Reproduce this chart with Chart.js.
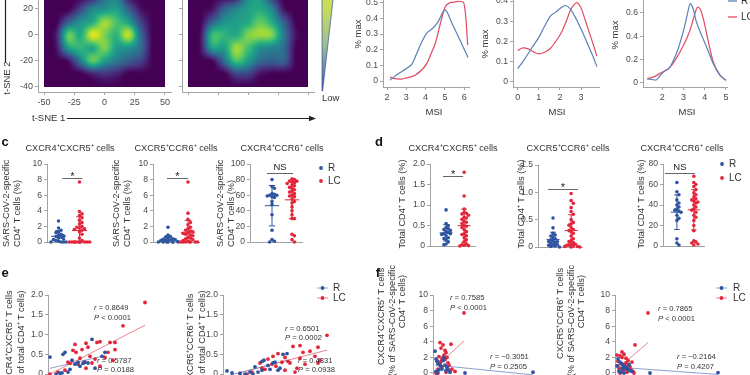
<!DOCTYPE html>
<html><head><meta charset="utf-8">
<script src="https://cdn.jsdelivr.net/npm/chart.js@4.4.1/dist/chart.umd.min.js"></script>
<style>
html,body{margin:0;padding:0;width:750px;height:375px;overflow:hidden;background:#fff;}
#root{position:relative;width:750px;height:375px;overflow:hidden;font-family:"Liberation Sans",Arial,sans-serif;color:#333;}
.t{position:absolute;white-space:nowrap;line-height:1;}
</style></head><body><div id="root"></div>
<script>
// ================= DATA =================
// t-SNE density grids (rows: tsneY, cols: tsneX), 0..1
const tsneX = [-50,-40,-30,-20,-10,0,10,20,30,40,50];
const tsneY = [40,30,20,10,0,-10,-20,-30,-40];
const heatR = [
 [0,0,0,0,0,0.1,0.15,0,0,0,0],
 [0,0,0,0,0.05,0.35,0.4,0.05,0,0,0],
 [0,0,0,0.2,0.45,0.5,0.55,0.3,0.05,0,0],
 [0,0,0.3,0.5,0.6,0.85,0.7,0.55,0.2,0,0],
 [0,0.08,0.75,0.6,0.95,0.8,0.65,0.9,0.35,0,0],
 [0,0.05,0.55,0.65,0.6,0.8,0.55,0.5,0.35,0,0],
 [0,0,0.05,0.4,0.75,0.55,0.4,0.3,0.2,0,0],
 [0,0,0,0,0.1,0.15,0.1,0,0,0,0],
 [0,0,0,0,0,0,0,0,0,0,0]];
const heatLC = [
 [0,0,0,0,0,0.1,0.15,0,0,0,0],
 [0,0,0,0,0.05,0.45,0.5,0.15,0,0,0],
 [0,0,0.05,0.3,0.45,0.55,0.6,0.45,0.05,0,0],
 [0,0,0.3,0.5,0.55,0.6,0.75,0.6,0.3,0,0],
 [0,0.03,0.65,0.65,0.6,0.8,0.85,0.8,0.4,0.05,0],
 [0,0.03,0.55,0.55,0.85,0.7,0.5,0.45,0.35,0,0],
 [0,0,0.02,0.35,0.7,0.55,0.35,0.3,0.3,0,0],
 [0,0,0,0,0.2,0.2,0.05,0,0,0,0],
 [0,0,0,0,0,0,0,0,0,0,0]];
const tsneTicks = [-50,-25,0,25,50];
const tsneYTicks = [-40,-20,0,20,40];

// MSI density curves (% max)
const msi1x_R = [2.15,2.5,3.0,3.3,3.55,3.8,4.05,4.35,4.65,5.0,5.4,5.75,6.2];
const msi1y_R = [0.005,0.04,0.08,0.11,0.18,0.25,0.305,0.335,0.38,0.455,0.36,0.27,0.15];
const msi1x_LC = [2.15,2.4,2.7,3.0,3.5,4.05,4.3,4.5,4.75,5.0,5.25,5.5,5.75,5.95,6.05,6.12,6.18];
const msi1y_LC = [0.025,0.015,0.012,0.02,0.04,0.11,0.18,0.24,0.36,0.47,0.50,0.505,0.51,0.505,0.45,0.35,0.23];
const msi2x_R = [0,0.25,0.5,0.75,1.0,1.25,1.55,1.8,2.1,2.25,2.5,2.8,3.05,3.3,3.55,3.75];
const msi2y_R = [0.065,0.1,0.14,0.18,0.22,0.27,0.325,0.345,0.37,0.378,0.36,0.305,0.25,0.19,0.13,0.075];
const msi2x_LC = [0,0.25,0.5,0.75,1.0,1.25,1.55,1.8,2.05,2.3,2.5,2.65,2.8,3.0,3.2,3.5,3.75];
const msi2y_LC = [0.155,0.168,0.163,0.148,0.138,0.145,0.165,0.2,0.24,0.3,0.355,0.38,0.392,0.365,0.305,0.21,0.127];
const msi3x_R = [1.3,1.5,1.7,1.9,2.05,2.35,2.55,2.75,3.05,3.2,3.32,3.45,3.6,3.9,4.15,4.4,4.7,5.0];
const msi3y_R = [0.03,0.028,0.022,0.06,0.09,0.13,0.2,0.29,0.48,0.6,0.68,0.64,0.53,0.39,0.28,0.165,0.07,0.02];
const msi3x_LC = [1.3,1.6,1.9,2.05,2.35,2.6,2.97,3.2,3.36,3.55,3.67,3.8,3.95,4.2,4.4,4.7,5.0];
const msi3y_LC = [0.035,0.05,0.08,0.095,0.13,0.19,0.31,0.4,0.48,0.6,0.65,0.63,0.54,0.33,0.18,0.07,0.02];
const msi1Ticks = [2,3,4,5,6], msi2Ticks = [0,1,2,3], msi3Ticks = [2,3,4,5];
const pm1Ticks = [0,0.1,0.2,0.3,0.4,0.5], pm2Ticks = [0,0.1,0.2,0.3,0.4], pm3Ticks = [0,0.2,0.4,0.6];

// c: SARS-CoV-2-specific CD4+ T cells (%)
const c1R  = [2.7,1.8,1.5,1.3,1.2,1.0,0.9,0.8,0.7,0.6,0.5,0.4,0.3,0.2,0.1,0,0,0,0];
const c1LC = [7.7,3.9,3.6,3.4,3.1,2.8,2.5,2.3,2.0,1.9,1.8,1.7,1.6,1.5,1.3,1.0,0.5,0.2,0,0,0,0,0,0,0,0,0,0,0];
const c2R  = [1.9,0.9,0.7,0.6,0.5,0.4,0.35,0.3,0.25,0.2,0.15,0.1,0.05,0,0,0,0,0,0];
const c2LC = [7.7,3.7,2.9,2.5,2.2,1.9,1.7,1.5,1.4,1.3,1.2,1.1,1.0,0.9,0.8,0.6,0.5,0.4,0.3,0.2,0.1,0,0,0,0,0,0,0,0];
const c3R  = [80,71,69,62,61,60,60,59,58,57,52,48,35,15,3,1,0];
const c3LC = [81,80,78,78,77,76,75,73,72,70,69,67,65,64,62,60,59,58,55,52,50,45,40,35,30,30,10,8,3,0];
// d: total CD4+ T cells (%)
const d1R  = [0.88,0.55,0.5,0.45,0.42,0.4,0.38,0.35,0.33,0.3,0.3,0.28,0.25,0.2,0.18,0.15,0.1,0.05,0.03];
const d1LC = [1.8,1.22,0.9,0.82,0.8,0.78,0.75,0.7,0.68,0.65,0.6,0.58,0.55,0.5,0.48,0.45,0.4,0.35,0.3,0.28,0.25,0.2,0.15,0.1,0.05,0.03,0.02,0.01,0];
const d2R  = [0.53,0.35,0.25,0.22,0.2,0.18,0.15,0.13,0.12,0.1,0.1,0.08,0.07,0.05,0.04,0.03,0.02,0.01,0];
const d2LC = [0.98,0.85,0.8,0.72,0.65,0.6,0.5,0.45,0.42,0.4,0.35,0.32,0.3,0.28,0.25,0.2,0.15,0.12,0.1,0.08,0.06,0.05,0.04,0.03,0.02,0.01,0.01,0,0];
const d3R  = [62,53,50,45,42,40,38,36,35,34,33,30,27,25,7,3,1];
const d3LC = [68,62,60,58,55,52,50,48,46,45,44,43,42,40,38,36,35,33,30,28,25,20,15,5,4,3,2,1];
const sigLevels = [8.2, 8.2, 89, 1.7, 1.06, 71];
const sigLabels = ['*','*','NS','*','*','NS'];
const cTicks = [0,2,4,6,8,10], c3Ticks = [0,20,40,60,80,100];
const d1Ticks = [0,0.5,1.0,1.5,2.0], d2Ticks = [0,0.5,1.0,1.5], d3Ticks = [0,20,40,60,80];

// e / f correlations
const e1Rx = [0.0,1.3,1.5,4.2,5.2,5.5,2.5,2.8,3.0,3.3,3.5,2.0,1.8,0.6,1.0,3.8,2.2,4.5,1.2];
const e1Ry = [0.43,0.5,0.55,0.88,0.45,0.55,0.25,0.3,0.2,0.27,0.3,0.12,0.05,0.0,0.02,0.28,0.35,0.15,0.03];
const e1LCx = [9.5,7.3,2.5,2.3,3.2,3.6,3.8,4.7,5.0,6.0,6.5,6.5,4.0,3.0,3.4,2.8,4.2,4.5,5.5,5.0,3.6,2.0,1.5,0.0,0.8,2.6,5.8,6.3,1.8];
const e1LCy = [1.81,1.22,0.75,0.6,0.62,0.78,0.68,0.8,0.82,0.8,0.8,0.62,0.45,0.4,0.3,0.25,0.28,0.38,0.42,0.2,0.15,0.27,0.1,0.0,0.05,0.55,0.55,0.35,0.3];
const e2Rx = [0.2,0.7,1.5,2.0,3.3,3.7,4.5,5.0,5.5,5.8,6.2,5.3,4.8,2.8,3.7,3.9,2.5,3.0,4.3];
const e2Ry = [0.08,0.03,0.02,0.0,0.05,0.1,0.12,0.3,0.15,0.5,0.52,0.1,0.28,0.0,0.32,0.35,0.05,0.18,0.22];
const e2LCx = [10.2,6.8,7.5,9.3,8.5,7.8,4.8,5.3,4.3,4.7,5.7,6.3,6.5,5.1,3.7,6.0,7.0,2.7,1.5,8.0,9.3,9.5,3.5,6.0,4.0,2.2,7.5,9.0,7.2];
const e2LCy = [0.98,0.7,0.72,0.68,0.58,0.55,0.45,0.52,0.38,0.25,0.3,0.32,0.28,0.2,0.15,0.1,0.05,0.05,0.02,0.25,0.28,0.35,0.28,0.42,0.12,0.0,0.4,0.45,0.15];
const f1Rx = [0,0.1,0.2,0.3,0.5,0.6,0.8,0.9,1.0,1.2,0.7,0.4,0.1,1.1,1.3,1.5,3.0,9.8,0.2];
const f1Ry = [2.8,1.8,1.5,1.2,1.0,0.8,1.6,2.0,1.0,0.7,0.5,0.4,0.2,0.3,0.5,0.1,0.0,0.1,0];
const f1LCx = [2.9,1.6,0.1,0.2,0.3,0.5,0.6,0.7,0.8,0.9,1.0,1.1,1.2,1.3,0.4,0.2,0.6,0.8,0.5,1.0,1.4,1.7,2.0,0.7,0.3,1.1,1.5];
const f1LCy = [7.7,3.7,0,0.2,0.5,1.2,1.5,1.8,2.0,2.3,1.7,2.6,2.0,1.3,2.1,1.6,3.2,3.6,3.9,2.9,1.0,0.5,0.2,0.8,0,0.1,0.3];
const f2Rx = [0.1,0.3,0.5,0.6,0.8,0.9,1.1,1.3,0.2,0.4,0.7,1.0,1.2,1.5,3.3,10.1,0.5,0.0];
const f2Ry = [1.8,1.4,1.2,1.0,0.8,0.5,0.4,0.3,0.2,0.1,0.0,0.7,1.1,0.2,0.0,0.05,0.6,0.9];
const f2LCx = [3.1,1.8,0.1,0.3,0.5,0.7,0.9,1.1,0.4,0.8,1.3,1.5,0.2,0.6,1.0,1.6,0.3,1.2,0.7,0.5,0.0,0.9,1.4,0.1,1.7];
const f2LCy = [7.7,3.6,1.5,2.2,2.7,2.4,1.9,1.6,1.2,1.0,0.8,1.4,0.5,0.3,0.1,0.2,0,0.5,0.6,2.0,2.3,1.3,0.4,0.9,0];
const eTicks = [0,0.5,1.0,1.5,2.0], fTicks = [0,2,4,6,8,10];
const statsText = [
 ['r','= 0.8649','P','< 0.0001'],['r','= 0.5787','P','= 0.0188'],
 ['r','= 0.6501','P','= 0.0002'],['r','= 0.4331','P','= 0.0938'],
 ['r','= 0.7585','P','< 0.0001'],['r','= \u22120.3051','P','= 0.2505'],
 ['r','= 0.7865','P','< 0.0001'],['r','= \u22120.2164','P','= 0.4207']];
const groups = ['R','LC'];
const cTitles = ['CXCR4\u207ACXCR5\u207A cells','CXCR5\u207ACCR6\u207A cells','CXCR4\u207ACCR6\u207A cells'];

// ================= STYLE / HELPERS =================
const FONT = '"Liberation Sans", Arial, sans-serif';
Chart.defaults.font.family = FONT;
const BLUE='#2f54a0', RED='#e3263b', LBLUE='#5b7fb8', LRED='#e24a62', FBLUE='#7d97c8', FRED='#ea7683', AX='#a3a3a3', TK='#4a4a4a';
const root=document.getElementById('root');

function mk(area,cfg,m){
  m=Object.assign({l:40,r:10,t:20,b:20},m||{});
  const c=document.createElement('canvas');
  const W=area.r-area.l+m.l+m.r, H=area.b-area.t+m.t+m.b;
  c.width=W;c.height=H;
  c.style.cssText=`position:absolute;left:${area.l-m.l}px;top:${area.t-m.t}px;width:${W}px;height:${H}px`;
  root.appendChild(c);
  const o=cfg.options=cfg.options||{};
  o.responsive=false;o.animation=false;o.devicePixelRatio=1;
  o.layout={autoPadding:false,padding:{left:0,right:m.r,top:m.t,bottom:0}};
  o.plugins=Object.assign({legend:{display:false},tooltip:{enabled:false}},o.plugins||{});
  o.scales.x.afterFit=s=>{s.height=m.b;};
  o.scales.y.afterFit=s=>{s.width=m.l;};
  return new Chart(c,cfg);
}
function axis(min,max,ticks,fmt,showLabels,size){
  return {type:'linear',min,max,
    border:{display:true,color:AX,width:1},
    grid:{display:true,drawOnChartArea:false,drawTicks:true,tickLength:3,color:AX,lineWidth:1},
    ticks:{display:showLabels!==false,color:TK,font:{family:FONT,size:size||8.6},padding:2,autoSkip:false,maxRotation:0,
      callback:fmt||(v=>String(v))},
    afterBuildTicks:s=>{s.ticks=ticks.map(v=>({value:v}));}};
}
function bareX(min,max){return {type:'linear',min,max,border:{display:true,color:AX,width:1},grid:{display:false},ticks:{display:false}};}
const f1d=v=>v===0?'0':v.toFixed(1);
const zip=(xs,ys)=>xs.map((x,i)=>({x,y:ys[i]}));

// viridis + bicubic heat plugin
const VIR=[[0,68,1,84],[0.1,72,36,117],[0.2,65,68,135],[0.3,53,95,141],[0.4,42,120,142],[0.5,33,145,140],[0.6,34,168,132],[0.7,68,191,112],[0.8,122,209,81],[0.9,189,223,38],[1,253,231,37]];
function vir(v){v=Math.max(0,Math.min(1,v));for(let i=1;i<VIR.length;i++){if(v<=VIR[i][0]){const a=VIR[i-1],b=VIR[i],t=(v-a[0])/(b[0]-a[0]);return [a[1]+(b[1]-a[1])*t,a[2]+(b[2]-a[2])*t,a[3]+(b[3]-a[3])*t];}}return VIR[VIR.length-1].slice(1);}
function cr(p0,p1,p2,p3,t){return p1+0.5*t*(p2-p0+t*(2*p0-5*p1+4*p2-p3+t*(3*(p1-p2)+p3-p0)));}
function bicubic(g,x,y){const R=g.length,C=g[0].length,xi=Math.floor(x),yi=Math.floor(y),tx=x-xi,ty=y-yi;
  const get=(r,c)=>g[Math.min(R-1,Math.max(0,r))][Math.min(C-1,Math.max(0,c))];
  const rows=[];for(let k=-1;k<=2;k++)rows.push(cr(get(yi+k,xi-1),get(yi+k,xi),get(yi+k,xi+1),get(yi+k,xi+2),tx));
  return cr(rows[0],rows[1],rows[2],rows[3],ty);}
function heatPlugin(grid){return {id:'heat',beforeDatasetsDraw(chart){
  const xs=chart.scales.x,ys=chart.scales.y,ctx=chart.ctx;
  const X0=Math.round(xs.getPixelForValue(tsneX[0])),X1=Math.round(xs.getPixelForValue(tsneX[tsneX.length-1]));
  const Y0=Math.round(ys.getPixelForValue(tsneY[0])),Y1=Math.round(ys.getPixelForValue(tsneY[tsneY.length-1]));
  const w=X1-X0,h=Y1-Y0,img=ctx.createImageData(w,h);
  const dx=tsneX[1]-tsneX[0],dy=tsneY[0]-tsneY[1];
  for(let j=0;j<h;j++){const vy=ys.getValueForPixel(Y0+j+0.5),gy=(tsneY[0]-vy)/dy;
    for(let i=0;i<w;i++){const vx=xs.getValueForPixel(X0+i+0.5),gx=(vx-tsneX[0])/dx;
      const c=vir(bicubic(grid,gx,gy)),k=(j*w+i)*4;img.data[k]=c[0];img.data[k+1]=c[1];img.data[k+2]=c[2];img.data[k+3]=255;}}
  const off=document.createElement('canvas');off.width=w;off.height=h;off.getContext('2d').putImageData(img,0,0);
  ctx.drawImage(off,X0,Y0);}};}

function swarm(vals,c,yr){
  const pts=[],ysd=yr*0.04,xsd=0.12;
  vals.slice().sort((a,b)=>b-a).forEach((v,i)=>{
    let p=null;
    for(let k=0;k<=8&&!p;k++){const off=k===0?0:(k%2?1:-1)*Math.ceil(k/2);const x=c+off*xsd;
      if(!pts.some(q=>Math.abs(q.x-x)<xsd*0.9&&Math.abs(q.y-v)<ysd))p={x,y:v};}
    if(!p)p={x:c+(((i*5)%9)-4)*xsd*0.5,y:v};
    pts.push(p);});
  return pts;}
function summary(vals,c){
  const n=vals.length,m=vals.reduce((a,b)=>a+b,0)/n,sd=Math.sqrt(vals.reduce((a,b)=>a+(b-m)*(b-m),0)/(n-1));
  const w=0.36,cw=0.16;
  return [{x:c-w,y:m},{x:c+w,y:m},{x:c,y:null},{x:c,y:m-sd},{x:c,y:m+sd},{x:c,y:null},
          {x:c-cw,y:m+sd},{x:c+cw,y:m+sd},{x:c,y:null},{x:c-cw,y:m-sd},{x:c+cw,y:m-sd}];}
function sigPlugin(level,label,x0,x1){return {id:'sig',afterDatasetsDraw(chart){
  const xs=chart.scales.x,ys=chart.scales.y,ctx=chart.ctx,y=Math.round(ys.getPixelForValue(level))+0.5;
  const a=xs.getPixelForValue(x0),b=xs.getPixelForValue(x1);
  ctx.save();ctx.strokeStyle='#555';ctx.lineWidth=0.9;ctx.beginPath();ctx.moveTo(a,y);ctx.lineTo(b,y);ctx.stroke();
  ctx.fillStyle='#222';ctx.textAlign='center';ctx.textBaseline='alphabetic';
  if(label==='*'){ctx.font='11px '+FONT;ctx.fillText('*',(a+b)/2,y+1.5);}
  else{ctx.font='9.5px '+FONT;ctx.fillText(label,(a+b)/2,y-3.5);}
  ctx.restore();}};}
function fitLine(xs,ys){const n=xs.length,mx=xs.reduce((a,b)=>a+b,0)/n,my=ys.reduce((a,b)=>a+b,0)/n;
  let sxy=0,sxx=0;for(let i=0;i<n;i++){sxy+=(xs[i]-mx)*(ys[i]-my);sxx+=(xs[i]-mx)*(xs[i]-mx);}
  const b=sxy/sxx,a=my-b*mx,x0=Math.min(...xs),x1=Math.max(...xs);
  return [{x:x0,y:a+b*x0},{x:x1,y:a+b*x1}];}

// ================= CHARTS =================
// t-SNE heatmaps
mk({l:38,r:171,t:-17,b:92},{type:'scatter',data:{datasets:[{data:[]}]},
  options:{scales:{x:axis(-55,55,tsneTicks,null,true,9),y:axis(-44,40,tsneYTicks,null,true,9)}},plugins:[heatPlugin(heatR)]});
mk({l:182,r:314,t:-17,b:92},{type:'scatter',data:{datasets:[{data:[]}]},
  options:{scales:{x:axis(-55,55,tsneTicks,null,false),y:axis(-44,40,tsneYTicks,null,false)}},plugins:[heatPlugin(heatLC)]});

// MSI density lines
function dens(area,xr,yr,xt,yt,rx,ry,lx,ly){
  const ds=(d,c)=>({data:d,borderColor:c,borderWidth:1.2,pointRadius:0,cubicInterpolationMode:'monotone',fill:false});
  mk(area,{type:'line',data:{datasets:[ds(zip(rx,ry),LBLUE),ds(zip(lx,ly),LRED)]},
    options:{scales:{x:axis(xr[0],xr[1],xt,null,true,9),y:axis(yr[0],yr[1],yt,f1d,true,8.6)}}});}
dens({l:383,r:469,t:-5,b:87},[1.79,6.25],[-0.038,0.55],msi1Ticks,pm1Ticks,msi1x_R,msi1y_R,msi1x_LC,msi1y_LC);
dens({l:513,r:599,t:-3,b:87},[-0.22,3.85],[-0.026,0.42],msi2Ticks,pm2Ticks,msi2x_R,msi2y_R,msi2x_LC,msi2y_LC);
dens({l:643,r:727,t:-1,b:87},[1.1,5.05],[-0.037,0.72],msi3Ticks,pm3Ticks,msi3x_R,msi3y_R,msi3x_LC,msi3y_LC);

// c / d dot plots
function dots(area,vR,vLC,ymax,yt,fmt,xr,si,sx0,sx1){
  const yr=ymax;
  const pt=(d,c)=>({data:d,pointRadius:1.8,pointBackgroundColor:c,pointBorderWidth:0,pointBorderColor:c,order:1,clip:false});
  const ln=(d,c)=>({type:'line',data:d,borderColor:c,borderWidth:1,pointRadius:0,spanGaps:false,order:0});
  mk(area,{type:'scatter',data:{datasets:[pt(swarm(vR,0,yr),BLUE),pt(swarm(vLC,1,yr),RED),ln(summary(vR,0),BLUE),ln(summary(vLC,1),RED)]},
    options:{scales:{x:bareX(xr[0],xr[1]),y:axis(0,ymax,yt,fmt,true,8.6)}},plugins:[sigPlugin(sigLevels[si],sigLabels[si],sx0,sx1)]});}
dots({l:47,r:91,t:164,b:242},c1R,c1LC,10,cTicks,null,[-0.55,1.55],0,0.19,1.14);
dots({l:153,r:199,t:164,b:242},c2R,c2LC,10,cTicks,null,[-0.75,1.55],1,-0.05,1.0);
dots({l:250,r:302,t:164,b:242},c3R,c3LC,100,c3Ticks,null,[-1.1,1.5],2,-0.25,1.05);
dots({l:430,r:475,t:164,b:246},d1R,d1LC,2,d1Ticks,f1d,[-0.89,1.6],3,-0.17,0.94);
dots({l:538,r:582,t:165,b:247},d2R,d2LC,1.5,d2Ticks,f1d,[-0.83,1.6],4,-0.28,1.38);
dots({l:663,r:704,t:164,b:246},d3R,d3LC,80,d3Ticks,null,[-0.82,1.6],5,-0.7,1.06);

// e / f scatter correlations
function corr(area,ymin,ymax,yt,fmt,rx,ry,lx,ly){
  const pt=(d,c)=>({data:d,pointRadius:1.9,pointBackgroundColor:c,pointBorderWidth:0,pointBorderColor:c,order:1,clip:false});
  const ln=(d,c)=>({type:'line',data:d,borderColor:c,borderWidth:0.9,pointRadius:0,order:2});
  mk(area,{type:'scatter',data:{datasets:[ln(fitLine(rx,ry),FBLUE),ln(fitLine(lx,ly),FRED),pt(zip(rx,ry),BLUE),pt(zip(lx,ly),RED)]},
    options:{scales:{x:bareX(-0.2,12),y:axis(ymin,ymax,yt,fmt,true,8.6)}}});}
corr({l:48,r:170,t:295,b:382},-0.2,2.0,eTicks,f1d,e1Rx,e1Ry,e1LCx,e1LCy);
corr({l:223,r:345,t:295,b:382},-0.2,2.0,eTicks,f1d,e2Rx,e2Ry,e2LCx,e2LCy);
corr({l:433,r:555,t:295,b:380},-0.9,10,fTicks,null,f1Rx,f1Ry,f1LCx,f1LCy);
corr({l:615,r:737,t:295,b:380},-0.9,10,fTicks,null,f2Rx,f2Ry,f2LCx,f2LCy);

// ================= DECORATION (arrows, colour key, legend keys) =================
const svgNS='http://www.w3.org/2000/svg';
const svg=document.createElementNS(svgNS,'svg');
svg.setAttribute('width',750);svg.setAttribute('height',375);
svg.style.cssText='position:absolute;left:0;top:0';
svg.innerHTML=`
<defs><linearGradient id="cb" x1="0" y1="0" x2="0" y2="1">
<stop offset="0" stop-color="#e8e33a"/><stop offset="0.3" stop-color="#c4dc5c"/><stop offset="0.6" stop-color="#9cbf98"/><stop offset="1" stop-color="#4660ad"/></linearGradient></defs>
<polygon points="322,-25 335.8,-25 322.6,91 322,91" fill="url(#cb)" stroke="#3a4f9a" stroke-width="0.7"/>
<line x1="67" y1="118.5" x2="311" y2="118.5" stroke="#222" stroke-width="1.2"/>
<polygon points="316,118.5 309,115.8 309,121.2" fill="#222"/>
<line x1="5.5" y1="62" x2="5.5" y2="-10" stroke="#222" stroke-width="1.2"/>
<line x1="728" y1="1" x2="737" y2="1" stroke="${LBLUE}" stroke-width="1.3"/>
<line x1="728" y1="17" x2="737" y2="17" stroke="${LRED}" stroke-width="1.3"/>
<circle cx="321" cy="168" r="1.9" fill="${BLUE}"/><circle cx="321" cy="181" r="1.9" fill="${RED}"/>
<circle cx="722" cy="164" r="1.9" fill="${BLUE}"/><circle cx="722" cy="178" r="1.9" fill="${RED}"/>
<line x1="317" y1="288" x2="328" y2="288" stroke="${FBLUE}" stroke-width="0.9"/><circle cx="322.5" cy="288" r="1.9" fill="${BLUE}"/>
<line x1="317" y1="298" x2="328" y2="298" stroke="${FRED}" stroke-width="0.9"/><circle cx="322.5" cy="298" r="1.9" fill="${RED}"/>
<line x1="716" y1="288" x2="727" y2="288" stroke="${FBLUE}" stroke-width="0.9"/><circle cx="721.5" cy="288" r="1.9" fill="${BLUE}"/>
<line x1="716" y1="298" x2="727" y2="298" stroke="${FRED}" stroke-width="0.9"/><circle cx="721.5" cy="298" r="1.9" fill="${RED}"/>`;
root.appendChild(svg);

// ================= TEXT =================
function txt(s,x,y,o){o=o||{};const d=document.createElement('div');d.className='t';d.innerHTML=s;
  d.style.left=x+'px';d.style.top=y+'px';d.style.fontSize=(o.size||9.2)+'px';
  if(o.bold)d.style.fontWeight='bold';if(o.color)d.style.color=o.color;
  if(o.lh){d.style.lineHeight=o.lh+'px';d.style.textAlign='center';}
  let tf;
  if(o.rot==='start'){d.style.transformOrigin='0 0';tf='rotate(-90deg) translate(0,-50%)';}
  else if(o.rot==='end'){d.style.transformOrigin='0 0';tf='rotate(-90deg) translate(-100%,-50%)';}
  else if(o.rot)tf='translate(-50%,-50%) rotate(-90deg)';
  else if(o.align==='left')tf='translate(0,-50%)';
  else tf='translate(-50%,-50%)';
  d.style.transform=tf;root.appendChild(d);}
// panel a/b
txt('t-SNE 2',7,78,{rot:true,size:9.5});
txt('t-SNE 1',32,118,{align:'left',size:9.5});
txt('Low',322,98,{align:'left',size:9.5});
txt('% max',358,34,{rot:true,size:9.5});txt('% max',485,44,{rot:true,size:9.5});txt('% max',615,35,{rot:true,size:9.5});
txt('MSI',434,112,{size:9.5});txt('MSI',557,112,{size:9.5});txt('MSI',687,112,{size:9.5});
txt(groups[0],741,1,{align:'left',size:10});txt(groups[1],741,17,{align:'left',size:10});
// panel letters
txt('c',5,141,{bold:true,size:13,color:'#111'});txt('d',379,141,{bold:true,size:13,color:'#111'});
txt('e',5,272,{bold:true,size:13,color:'#111'});txt('f',378,272,{bold:true,size:13,color:'#111'});
// c / d titles
[70,176,282].forEach((x,i)=>txt(cTitles[i],x,149));
[453,568,682].forEach((x,i)=>txt(cTitles[i],x,149));
[[7,18],[117,128],[221,232]].forEach(p=>{txt('SARS-CoV-2-specific',p[0],247,{rot:'start'});txt('CD4\u207A T cells (%)',p[1],247,{rot:'start'});});
[403,522,642].forEach(x=>txt('Total CD4\u207A T cells (%)',x,204,{rot:true}));
txt(groups[0],328,168,{align:'left',size:10});txt(groups[1],328,181,{align:'left',size:10});
txt(groups[0],729,164,{align:'left',size:10});txt(groups[1],729,178,{align:'left',size:10});
// e / f
txt('CXCR4\u207ACXCR5\u207A T cells<br>(% of total CD4\u207A T cells)',15,339,{rot:true,lh:12});
txt('CXCR5\u207ACCR6\u207A T cells<br>(% of total CD4\u207A T cells)',196,339,{rot:true,lh:12});
const fLab1=['CXCR4\u207ACXCR5\u207A T cells','(% of SARS-CoV-2-specific','CD4\u207A T cells)'];
const fLab2=['CXCR5\u207ACCR6\u207A T cells','(% of SARS-CoV-2-specific','CD4\u207A T cells)'];
[[382,268],[392.5,265],[403,275]].forEach((p,i)=>txt(fLab1[i],p[0],p[1],{rot:'end'}));
[[561,268],[571.5,265],[582,275]].forEach((p,i)=>txt(fLab2[i],p[0],p[1],{rot:'end'}));
txt(groups[0],333,288,{align:'left',size:10});txt(groups[1],333,298,{align:'left',size:10});
txt(groups[0],733,288,{align:'left',size:10});txt(groups[1],733,298,{align:'left',size:10});
const statPos=[[94,308,318],[97,361,370],[285,329,338],[298,361,370],[450,298,308],[490,357,367],[658,309,319],[677,357,367]];
statPos.forEach((p,i)=>{const s=statsText[i];
  txt('<i>'+s[0]+'</i> '+s[1],p[0],p[1],{align:'left',size:7.6});
  txt('<i>'+s[2]+'</i> '+s[3],p[0],p[2],{align:'left',size:7.6});});
</script></body></html>
